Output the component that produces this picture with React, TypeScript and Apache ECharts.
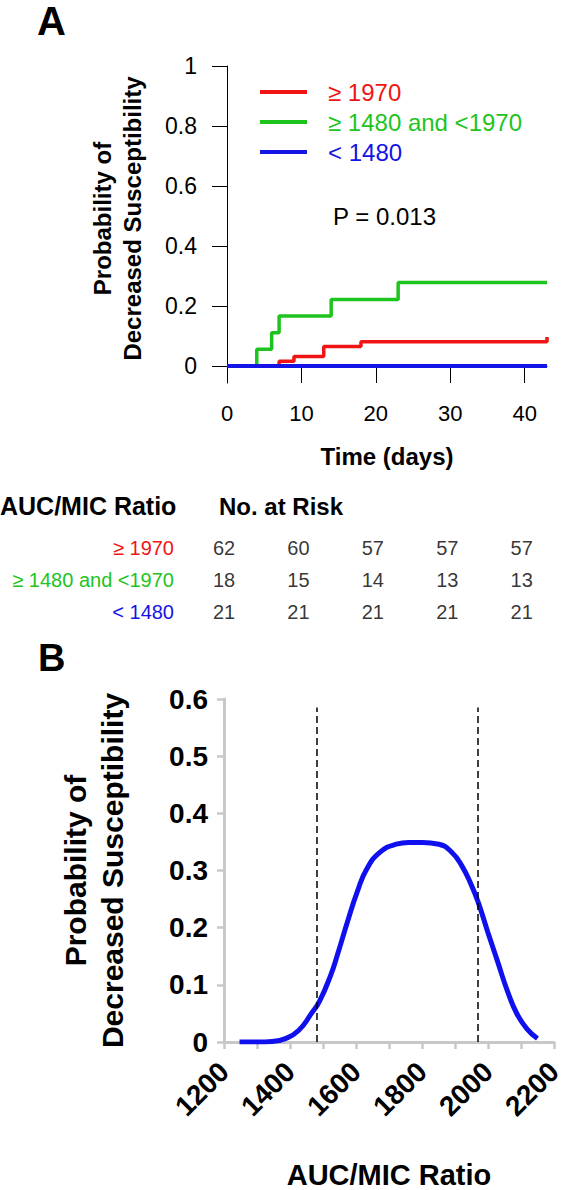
import React, { useEffect, useRef } from "react";
import * as echarts from "echarts";

const FONT = "'Liberation Sans', Arial, Helvetica, sans-serif";

// Panel A: Kaplan-Meier style cumulative probability
const groupNames = ["≥ 1970", "≥ 1480 and <1970", "< 1480"];
const groupColors = ["#f01414", "#1ec41e", "#1414e6"];

const highDays = [0, 7, 9, 13, 18, 43, 43];
const highProb = [0, 0.016, 0.032, 0.065, 0.081, 0.081, 0.097];
const midDays = [0, 4, 6, 7, 14, 23, 43];
const midProb = [0, 0.056, 0.111, 0.167, 0.222, 0.278, 0.278];
const lowDays = [0, 43];
const lowProb = [0, 0];

const timeTicks = [0, 10, 20, 30, 40];
const probTicks = [0, 0.2, 0.4, 0.6, 0.8, 1];

// Number at risk table
const riskHigh = [62, 60, 57, 57, 57];
const riskMid = [18, 15, 14, 13, 13];
const riskLow = [21, 21, 21, 21, 21];

// Panel B: probability vs AUC/MIC ratio
const ratioValues = [1247, 1300, 1346, 1386, 1426, 1465, 1490, 1524, 1544, 1574, 1604, 1633, 1673, 1722, 1760, 1801, 1851, 1890, 1920, 1950, 1970, 1999, 2029, 2059, 2088, 2118, 2150];
const ratioProb = [0, 0, 0.001, 0.006, 0.02, 0.05, 0.072, 0.118, 0.153, 0.21, 0.263, 0.303, 0.332, 0.346, 0.349, 0.349, 0.346, 0.332, 0.309, 0.274, 0.245, 0.193, 0.141, 0.089, 0.049, 0.023, 0.006];
const cutoffs = [1480, 1970];
const cutoffTop = 0.585;

const zip = (xs: number[], ys: number[]) => xs.map((x, i) => [x, ys[i]]);

export default function App() {
  const ref = useRef<HTMLDivElement>(null);
  useEffect(() => {
    if (!ref.current) return;
    const chart = echarts.init(ref.current, undefined, { renderer: "svg" });
    const riskRows = [riskHigh, riskMid, riskLow];
    const riskData: any[] = [];
    riskRows.forEach((row, r) => row.forEach((v, i) => riskData.push([timeTicks[i], r, v])));
    const gray = "#c8c8c8";
    const option: any = {
      animation: false,
      textStyle: { fontFamily: FONT },
      grid: [
        { left: 227, top: 66, width: 320, height: 317 },
        { left: 227, top: 532, width: 320, height: 96 },
        { left: 224, top: 699, width: 338, height: 346 },
      ],
      legend: {
        left: 255,
        top: 75,
        orient: "vertical",
        icon: "rect",
        itemWidth: 47,
        itemHeight: 4,
        itemGap: 6,
        selectedMode: false,
        data: groupNames.map((n, i) => ({ name: n, textStyle: { color: groupColors[i] } })),
        textStyle: { fontSize: 24, lineHeight: 24, padding: [0, 0, 0, 16], fontFamily: FONT },
      },
      xAxis: [
        {
          gridIndex: 0, type: "value", min: 0, max: 43, offset: -17,
          axisLine: { onZero: false, lineStyle: { color: "#000", width: 1 } },
          axisTick: { customValues: timeTicks, length: 17, lineStyle: { color: "#000" } },
          axisLabel: { customValues: timeTicks, fontSize: 22, color: "#000", margin: 36, fontFamily: FONT },
          splitLine: { show: false },
          name: "Time (days)", nameLocation: "middle", nameGap: 78,
          nameTextStyle: { fontSize: 24, fontWeight: "bold", color: "#000", fontFamily: FONT },
        },
        { gridIndex: 1, type: "value", min: 0, max: 43, show: false },
        {
          gridIndex: 2, type: "value", min: 1200, max: 2200, interval: 100,
          axisLine: { lineStyle: { color: gray, width: 3 } },
          axisTick: { length: 7, lineStyle: { color: gray, width: 2.5 } },
          axisLabel: {
            rotate: 45, fontSize: 28, fontWeight: "bold", color: "#000", margin: 25, fontFamily: FONT,
            formatter: (v: number) => (v % 200 === 0 ? String(v) : ""),
          },
          splitLine: { show: false },
          name: "AUC/MIC Ratio", nameLocation: "middle", nameGap: 118,
          nameTextStyle: { fontSize: 29, fontWeight: "bold", color: "#000", fontFamily: FONT },
        },
      ],
      yAxis: [
        {
          gridIndex: 0, type: "value", min: -0.0567, max: 1,
          axisLine: { show: true, onZero: false, lineStyle: { color: "#000", width: 1 } },
          axisTick: { show: true, customValues: probTicks, length: 15, lineStyle: { color: "#000" } },
          axisLabel: { customValues: probTicks, fontSize: 23, color: "#000", margin: 30, fontFamily: FONT },
          splitLine: { show: false },
          name: "Probability of\nDecreased Susceptibility", nameLocation: "middle", nameGap: 80,
          nameTextStyle: { fontSize: 24, fontWeight: "bold", color: "#000", lineHeight: 30, padding: [0, 0, 0, 12], fontFamily: FONT },
        },
        {
          gridIndex: 1, type: "category", data: groupNames, inverse: true,
          axisLine: { show: false }, axisTick: { show: false }, splitLine: { show: false },
          axisLabel: {
            margin: 53,
            formatter: (v: string, i: number) => `{c${i}|${v}}`,
            rich: {
              c0: { color: groupColors[0], fontSize: 20, fontFamily: FONT },
              c1: { color: groupColors[1], fontSize: 20, fontFamily: FONT },
              c2: { color: groupColors[2], fontSize: 20, fontFamily: FONT },
            },
          },
        },
        {
          gridIndex: 2, type: "value", min: 0, max: 0.6, interval: 0.1,
          axisLine: { show: true, lineStyle: { color: gray, width: 3 } },
          axisTick: { show: true, length: 7, lineStyle: { color: gray, width: 2.5 } },
          axisLabel: {
            fontSize: 28, fontWeight: "bold", color: "#000", margin: 16, fontFamily: FONT,
            formatter: (v: number) => (v === 0 ? "0" : v.toFixed(1)),
          },
          splitLine: { show: false },
          name: "Probability of\nDecreased Susceptibility", nameLocation: "middle", nameGap: 93,
          nameTextStyle: { fontSize: 30, fontWeight: "bold", color: "#000", lineHeight: 37, fontFamily: FONT },
        },
      ],
      series: [
        {
          name: groupNames[0], type: "line", step: "end", xAxisIndex: 0, yAxisIndex: 0,
          data: zip(highDays, highProb), symbol: "none", color: groupColors[0],
          lineStyle: { width: 3.5, color: groupColors[0] },
        },
        {
          name: groupNames[1], type: "line", step: "end", xAxisIndex: 0, yAxisIndex: 0,
          data: zip(midDays, midProb), symbol: "none", color: groupColors[1],
          lineStyle: { width: 3.5, color: groupColors[1] },
        },
        {
          name: groupNames[2], type: "line", step: "end", xAxisIndex: 0, yAxisIndex: 0,
          data: zip(lowDays, lowProb), symbol: "none", color: groupColors[2],
          lineStyle: { width: 4, color: groupColors[2] },
        },
        {
          name: "risk", type: "scatter", xAxisIndex: 1, yAxisIndex: 1,
          data: riskData, symbolSize: 1, itemStyle: { color: "transparent" }, silent: true,
          label: {
            show: true, position: "inside", offset: [-3, 0], fontSize: 20, color: "#000", fontFamily: FONT,
            formatter: (p: any) => String(p.value[2]),
          },
        },
        {
          name: "curve", type: "line", xAxisIndex: 2, yAxisIndex: 2, smooth: true,
          data: zip(ratioValues, ratioProb), symbol: "none",
          lineStyle: { width: 5, color: "#1010ee" }, color: "#1010ee", z: 3,
          markLine: {
            silent: true, symbol: "none", label: { show: false },
            lineStyle: { type: [7, 4], color: "#000", width: 1.5 },
            data: cutoffs.map((c) => [{ coord: [c, 0] }, { coord: [c, cutoffTop] }]),
          },
        },
      ],
      graphic: [
        { type: "text", x: 37, y: 21, style: { text: "A", font: `bold 40px ${FONT}`, fill: "#000", align: "left", verticalAlign: "middle" } },
        { type: "text", x: 333, y: 216, style: { text: "P = 0.013", font: `24px ${FONT}`, fill: "#000", align: "left", verticalAlign: "middle" } },
        { type: "text", x: 0, y: 506, style: { text: "AUC/MIC Ratio", font: `bold 25px ${FONT}`, fill: "#000", align: "left", verticalAlign: "middle" } },
        { type: "text", x: 219, y: 506, style: { text: "No. at Risk", font: `bold 24px ${FONT}`, fill: "#000", align: "left", verticalAlign: "middle" } },
        { type: "text", x: 38, y: 658, style: { text: "B", font: `bold 38px ${FONT}`, fill: "#000", align: "left", verticalAlign: "middle" } },
      ],
    };
    chart.setOption(option);
    return () => chart.dispose();
  }, []);
  return <div ref={ref} style={{ position: "absolute", left: 0, top: 0, width: 566, height: 1190, background: "#fff" }} />;
}
